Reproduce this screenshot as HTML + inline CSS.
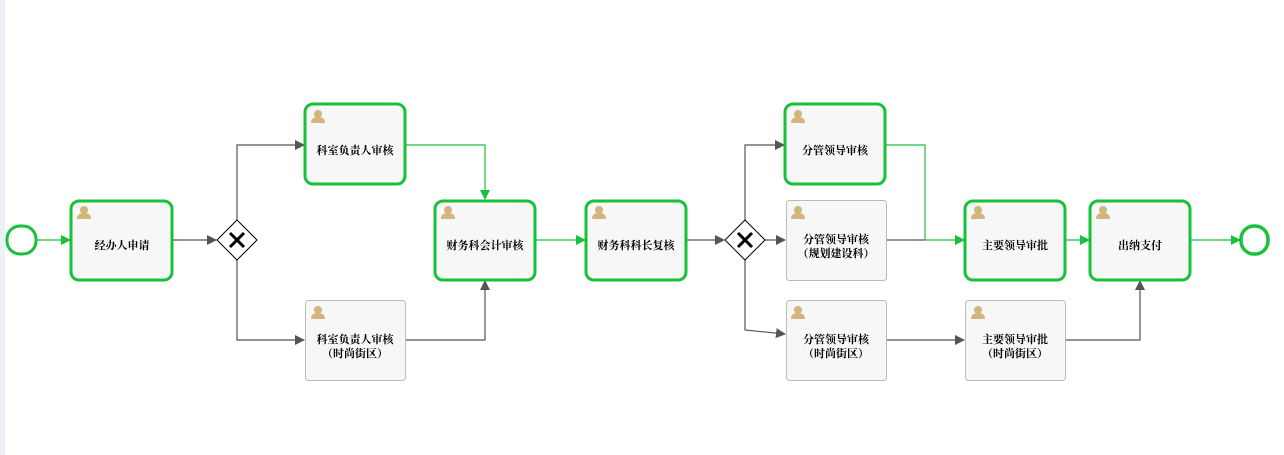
<!DOCTYPE html>
<html><head><meta charset="utf-8"><style>
html,body{margin:0;padding:0;background:#fff;}
svg{display:block;}
text{font-family:"Liberation Serif","Noto Serif CJK SC",serif;font-size:11px;font-weight:bold;fill:#000;text-anchor:middle;}
</style></head><body>
<svg width="1284" height="455" viewBox="0 0 1284 455" xmlns="http://www.w3.org/2000/svg">
<defs>
<marker id="ag" markerWidth="10" markerHeight="10" refX="9" refY="5" orient="auto" markerUnits="userSpaceOnUse"><path d="M0,0 L10,5 L0,10 z" fill="#18c139"/></marker>
<marker id="ak" markerWidth="10" markerHeight="10" refX="9" refY="5" orient="auto" markerUnits="userSpaceOnUse"><path d="M0,0 L10,5 L0,10 z" fill="#555"/></marker>
<g id="ic"><circle cx="0" cy="-3" r="4" fill="#d1b57a"/><path d="M-7,6 Q-7,0 0,0 Q7,0 7,6 z" fill="#d1b57a"/></g>
</defs>
<rect x="0" y="0" width="5" height="455" fill="#eef0f5"/>
<g fill="none" stroke-width="1.2">
<path d="M37,240 H70" stroke="#18c139" marker-end="url(#ag)"/>
<path d="M172,240 H216" stroke="#555" marker-end="url(#ak)"/>
<path d="M237,220 V145 H304" stroke="#555" marker-end="url(#ak)"/>
<path d="M237,260 V340 H304" stroke="#555" marker-end="url(#ak)"/>
<path d="M405,145 H485 V199" stroke="#18c139" marker-end="url(#ag)"/>
<path d="M405,340 H485 V281" stroke="#555" marker-end="url(#ak)"/>
<path d="M535,240 H585" stroke="#18c139" marker-end="url(#ag)"/>
<path d="M686,240 H724" stroke="#555" marker-end="url(#ak)"/>
<path d="M745,220 V145 H784" stroke="#555" marker-end="url(#ak)"/>
<path d="M765,240 H785" stroke="#555" marker-end="url(#ak)"/>
<path d="M745,260 V330 L785,334" stroke="#555" marker-end="url(#ak)"/>
<path d="M885,145 H925 V240 H964" stroke="#18c139" marker-end="url(#ag)"/>
<path d="M886,240 H925" stroke="#555"/>
<path d="M886,340 H964" stroke="#555" marker-end="url(#ak)"/>
<path d="M1065,240 H1089" stroke="#18c139" marker-end="url(#ag)"/>
<path d="M1065,340 H1140 V281" stroke="#555" marker-end="url(#ak)"/>
<path d="M1190,240 H1240" stroke="#18c139" marker-end="url(#ag)"/>
</g>
<rect x="7" y="226" width="29" height="28" rx="13" fill="#fff" stroke="#18c139" stroke-width="3"/>
<rect x="1241" y="226" width="27" height="28" rx="13" fill="#fff" stroke="#18c139" stroke-width="3.5"/>
<g stroke="#000" stroke-width="1">
<path d="M237,220 L257,240 L237,260 L217,240 z" fill="#fff"/>
<path d="M745,220 L765,240 L745,260 L725,240 z" fill="#fff"/>
</g>
<g stroke="#000" stroke-width="3">
<path d="M230,233 L244,247 M244,233 L230,247"/>
<path d="M738,233 L752,247 M752,233 L738,247"/>
</g>
<g fill="#f7f7f7" stroke="#18c139" stroke-width="3">
<rect x="71" y="201" width="101" height="79" rx="8"/>
<rect x="305" y="104" width="100" height="80" rx="8"/>
<rect x="435" y="201" width="100" height="79" rx="8"/>
<rect x="586" y="201" width="100" height="79" rx="8"/>
<rect x="785" y="104" width="100" height="80" rx="8"/>
<rect x="965" y="201" width="100" height="79" rx="8"/>
<rect x="1090" y="201" width="100" height="79" rx="8"/>
</g>
<g fill="#f7f7f7" stroke="#bbb" stroke-width="1">
<rect x="305.5" y="300.5" width="100" height="80" rx="3"/>
<rect x="786.5" y="200.5" width="100" height="80" rx="3"/>
<rect x="786.5" y="300.5" width="100" height="80" rx="3"/>
<rect x="965.5" y="300.5" width="100" height="80" rx="3"/>
</g>
<use href="#ic" x="84" y="213"/><use href="#ic" x="318" y="117"/><use href="#ic" x="318" y="313"/>
<use href="#ic" x="448" y="213"/><use href="#ic" x="599" y="213"/><use href="#ic" x="798" y="117"/>
<use href="#ic" x="798" y="213"/><use href="#ic" x="798" y="313"/><use href="#ic" x="978" y="213"/>
<use href="#ic" x="978" y="313"/><use href="#ic" x="1103" y="213"/>
<text x="122" y="249">经办人申请</text>
<text x="355" y="154">科室负责人审核</text>
<text x="355" y="343">科室负责人审核</text><text x="355" y="357">（时尚街区）</text>
<text x="485" y="249">财务科会计审核</text>
<text x="636" y="249">财务科科长复核</text>
<text x="835" y="154">分管领导审核</text>
<text x="836" y="243">分管领导审核</text><text x="836" y="257">（规划建设科）</text>
<text x="836" y="343">分管领导审核</text><text x="836" y="357">（时尚街区）</text>
<text x="1015" y="249">主要领导审批</text>
<text x="1015" y="343">主要领导审批</text><text x="1015" y="357">（时尚街区）</text>
<text x="1140" y="249">出纳支付</text>
</svg>
</body></html>
